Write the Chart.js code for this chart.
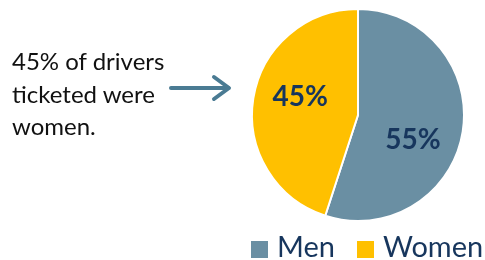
<!DOCTYPE html>
<html>
<head>
<meta charset="utf-8">
<script src="https://cdn.jsdelivr.net/npm/chart.js@4"></script>
<style>
  html, body { margin: 0; padding: 0; background: #fff; }
  #wrap { position: relative; width: 485px; height: 260px; }
  #note { position: absolute; left: 12px; top: 45px; font-family: Lato, sans-serif; font-size: 24px; line-height: 32.5px; color: #111; }
  #arrow { position: absolute; left: 168px; top: 74px; }
  #legend { position: absolute; left: 251px; top: 228px; font-family: Lato, sans-serif; font-size: 29px; line-height: 36px; color: #17365d; white-space: nowrap; }
  #legend span.item { display: inline-block; margin-right: 22px; }
  #legend span.box { display: inline-block; width: 17px; height: 17px; margin-right: 9px; vertical-align: -1px; }
</style>
</head>
<body>
<div id="wrap">
  <canvas id="pie" width="485" height="260"></canvas>
  <div id="note">45% of drivers<br>ticketed were<br>women.</div>
  <svg id="arrow" width="66" height="30">
    <line x1="3" y1="14" x2="60" y2="14" stroke="#4a7b93" stroke-width="4" stroke-linecap="round"/>
    <polyline points="46,3 61,14 46,25" fill="none" stroke="#4a7b93" stroke-width="4" stroke-linecap="round" stroke-linejoin="round"/>
  </svg>
  <div id="legend"></div>
</div>
<script>
const labels = ['Men', 'Women']
const shares = [55, 45]
const colors = ['#6a8fa3', '#ffc000']

const textColor = '#17365d'

// value labels inside the slices
const sliceLabels = {
  id: 'sliceLabels',
  afterDatasetsDraw(chart) {
    const ctx = chart.ctx
    const arcs = chart.getDatasetMeta(0).data
    // angle nudge (radians) and radius share, per slice
    const place = [[0.27, 0.57], [0.14, 0.57]]
    ctx.save()
    ctx.font = 'bold 28px Lato, sans-serif'
    ctx.fillStyle = textColor
    ctx.textAlign = 'center'
    ctx.textBaseline = 'middle'
    arcs.forEach((arc, i) => {
      const mid = (arc.startAngle + arc.endAngle) / 2 + place[i][0]
      const r = arc.outerRadius * place[i][1]
      ctx.fillText(shares[i] + '%', arc.x + Math.cos(mid) * r, arc.y + Math.sin(mid) * r)
    })
    ctx.restore()
  }
}

const chart = new Chart(document.getElementById('pie'), {
  type: 'pie',
  data: {
    labels: labels,
    datasets: [{
      data: shares,
      backgroundColor: colors,
      borderColor: '#fff',
      borderWidth: 2
    }]
  },
  options: {
    responsive: false,
    animation: false,
    layout: { padding: { left: 250, right: 19, top: 8, bottom: 38 } },
    plugins: {
      tooltip: { enabled: false },
      legend: { display: false }
    }
  },
  plugins: [sliceLabels]
})

// legend built from the chart's own labels and colours
const legend = document.getElementById('legend')
chart.data.labels.forEach((name, i) => {
  const item = document.createElement('span')
  item.className = 'item'
  const box = document.createElement('span')
  box.className = 'box'
  box.style.background = chart.data.datasets[0].backgroundColor[i]
  item.appendChild(box)
  item.appendChild(document.createTextNode(name))
  legend.appendChild(item)
})
</script>
</body>
</html>
